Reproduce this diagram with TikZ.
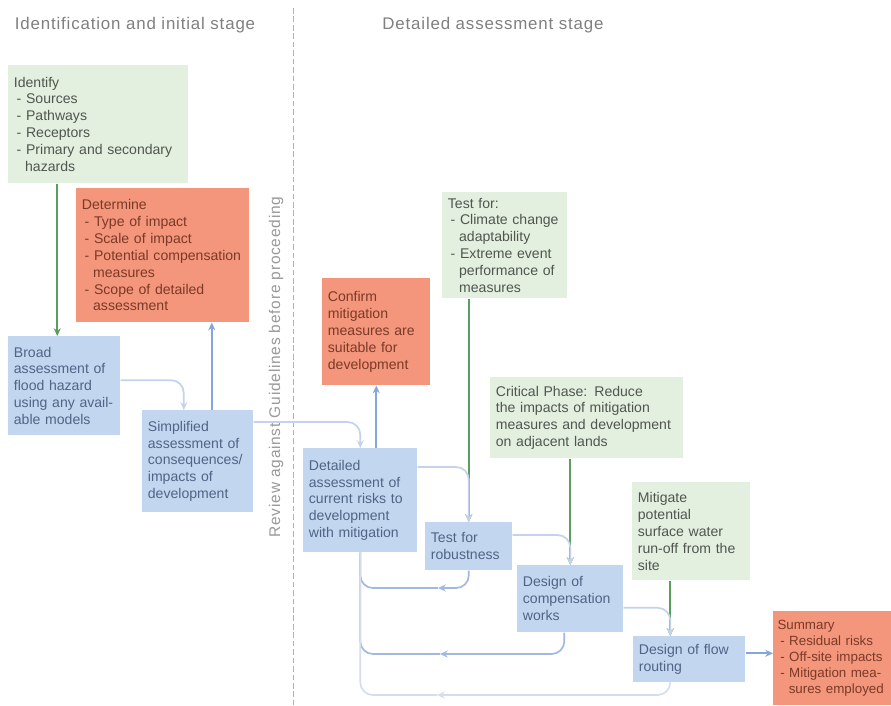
\documentclass[tikz,border=0pt]{standalone}
\usepackage{fontspec}
\setmainfont{Liberation Sans}
\newfontfamily\headfont[LetterSpace=5]{Liberation Sans}
\usepackage{xcolor}
\usetikzlibrary{arrows.meta, positioning}

\definecolor{boxgreen}{HTML}{E3F0E0}
\definecolor{boxorange}{HTML}{F4967B}
\definecolor{boxblue}{HTML}{C3D6F0}
\definecolor{textgreen}{HTML}{505550}
\definecolor{textorange}{HTML}{7A3A28}
\definecolor{textblue}{HTML}{4F6586}
\definecolor{linegreen}{HTML}{5A9E5E}
\definecolor{lineblue}{HTML}{85A6DA}
\definecolor{linepale}{HTML}{C5D3EA}
\definecolor{loopblue}{HTML}{A2B8E0}
\definecolor{loopfaint}{HTML}{D5DDEE}
\definecolor{headgray}{HTML}{808080}

\newcommand{\dashitem}{\hspace*{2pt}-\ }
\newcommand{\dashcont}{\hspace*{8pt}}

\begin{document}
\begin{tikzpicture}[
            x=0.025cm, y=-0.025cm,
            box/.style={anchor=north west, align=left, inner xsep=4pt, inner ysep=3pt,
                font=\fontsize{10}{12}\selectfont},
            boxsize/.style 2 args={minimum width=#1*0.025cm, minimum height=#2*0.025cm,
                text width=#1*0.025cm-8pt},
            greenbox/.style={box, fill=boxgreen, text=textgreen},
            orangebox/.style={box, fill=boxorange, text=textorange},
            bluebox/.style={box, fill=boxblue, text=textblue},
            stagehead/.style={text=headgray, font=\headfont\fontsize{12}{14}\selectfont},
            tip/.style={-{Stealth[length=5.5pt, width=5pt]}},
            greenarrow/.style={tip, draw=linegreen, line width=1.2pt},
            bluearrow/.style={tip, draw=lineblue, line width=1.2pt},
            palearrow/.style={tip, draw=linepale, line width=1.2pt, rounded corners=9pt},
            loopline/.style={line width=1.2pt, rounded corners=9pt}
        ]

        \fill[white] (0,0) rectangle (891,705);
        \useasboundingbox (0,0) rectangle (891,705);

        % Stage headings and divider
        \node[stagehead] (stageone) at (135,25) {Identification and initial stage};
        \node[stagehead] (stagetwo) at (493,25) {Detailed assessment stage};
        \draw[draw=black!30, line width=0.5pt, dash pattern=on 4pt off 2pt] (293,8) -- (293,705);
        \node[rotate=90, text=black!40, font=\headfont\fontsize{11}{13}\selectfont] (review) at (276,367)
            {Review against Guidelines before proceeding};

        % Nodes (manual layout)
        \node[greenbox, boxsize={180}{118}] (identify) at (8,65)
            {Identify\\ \dashitem Sources\\ \dashitem Pathways\\ \dashitem Receptors\\
             \dashitem Primary and secondary\\ \dashcont hazards};
        \node[orangebox, boxsize={173}{134}] (determine) at (76,188)
            {Determine\\ \dashitem Type of impact\\ \dashitem Scale of impact\\
             \dashitem Potential compensation\\ \dashcont measures\\
             \dashitem Scope of detailed\\ \dashcont assessment};
        \node[bluebox, boxsize={112}{99}] (broad) at (8,336)
            {Broad\\ assessment of\\ flood hazard\\ using any avail-\\ able models};
        \node[bluebox, boxsize={111}{102}] (simplified) at (142,410)
            {Simplified\\ assessment of\\ consequences/\\ impacts of\\ development};

        \node[orangebox, boxsize={108}{107}] (confirm) at (322,278)
            {Confirm\\ mitigation\\ measures are\\ suitable for\\ development};
        \node[greenbox, boxsize={125}{106}] (testfor) at (442,192)
            {Test for:\\ \dashitem Climate change\\ \dashcont adaptability\\
             \dashitem Extreme event\\ \dashcont performance of\\ \dashcont measures};
        \node[greenbox, boxsize={193}{81}] (critical) at (490,377)
            {Critical Phase: Reduce\\ the impacts of mitigation\\ measures and development\\ on adjacent lands};
        \node[bluebox, boxsize={114}{104}] (detailed) at (303,448)
            {Detailed\\ assessment of\\ current risks to\\ development\\ with mitigation};
        \node[bluebox, boxsize={87}{48}] (robust) at (425,522)
            {Test for\\ robustness};
        \node[bluebox, boxsize={106}{67}] (comp) at (517,565)
            {Design of\\ compensation\\ works};
        \node[greenbox, boxsize={118}{98}] (mitigate) at (632,482)
            {Mitigate\\ potential\\ surface water\\ run-off from the\\ site};
        \node[bluebox, boxsize={112}{46}] (flow) at (633,636)
            {Design of flow\\ routing};
        \node[orangebox, boxsize={122}{94}, inner xsep=3pt, text width=3.0cm,
              font=\fontsize{9.5}{11.5}\selectfont] (summary) at (773,611)
            {Summary\\ \dashitem Residual risks\\ \dashitem Off-site impacts\\
             \dashitem Mitigation mea-\\ \dashcont sures employed};

        % Edges
        \coordinate (idin) at ([xshift=-0.175cm]broad.north);
        \draw[greenarrow] (idin |- identify.south) -- (idin);

        \coordinate (simin) at ([xshift=-0.35cm]simplified.north);
        \draw[palearrow] ([yshift=0.14cm]broad.east) -| (simin);

        \coordinate (detout) at ([xshift=0.35cm]simplified.north);
        \draw[bluearrow] (detout) -- (detout |- determine.south);

        \draw[palearrow] ([yshift=-0.3cm]simplified.north east) -| (detailed.north);
        \draw[bluearrow] (detailed.north -| confirm.south) -- (confirm.south);

        \draw[greenarrow] (testfor.south -| robust.north) -- (robust.north);
        \draw[palearrow] ([yshift=-0.475cm]detailed.north east) -| (robust.north);

        \draw[greenarrow] (critical.south -| comp.north) -- (comp.north);
        \draw[palearrow] ([yshift=-0.325cm]robust.north east) -| (comp.north);

        \coordinate (flowin) at ([xshift=-0.475cm]flow.north);
        \draw[greenarrow] (flowin |- mitigate.south) -- (flowin);
        \draw[palearrow] ([yshift=-0.225cm]comp.east) -| (flowin);

        \coordinate (flowout) at ([yshift=0.15cm]flow.east);
        \draw[bluearrow] (flowout) -- (flowout -| summary.west);

        % Loops back to the detailed assessment
        \coordinate (backA) at (438,588);
        \coordinate (backB) at (440,654);
        \coordinate (backC) at (437,695);
        \draw[loopline, tip, draw=loopblue] (robust.south) |- (backA);
        \draw[loopline, draw=loopblue] (backA) -| (detailed.south);
        \draw[loopline, tip, draw=loopblue] ([xshift=-0.15cm]comp.south) |- (backB);
        \draw[loopline, draw=loopblue] (backB) -| (detailed.south);
        \draw[loopline, tip, draw=loopfaint] (flowin |- flow.south) |- (backC);
        \draw[loopline, draw=loopfaint] (backC) -| (detailed.south);

    \end{tikzpicture}
\end{document}
